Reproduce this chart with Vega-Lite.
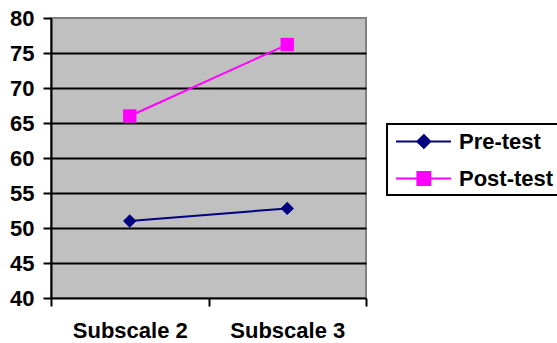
{
  "$schema": "https://vega.github.io/schema/vega-lite/v6.json",
  "autosize": "none",
  "width": 315,
  "height": 280,
  "padding": {"left": 51, "top": 18, "right": 191, "bottom": 45},
  "background": "white",
  "config": {
    "font": "Liberation Sans",
    "view": {"fill": "#C0C0C0", "stroke": "#808080", "strokeWidth": 2},
    "axis": {"labelFont": "Liberation Sans", "labelFontWeight": "bold", "labelFontSize": 22, "labelColor": "black"},
    "legend": {"strokeWidth": 2}
  },
  "data": {
    "values": [
      {"scale": "Subscale 2", "test": "Pre-test", "value": 51.0},
      {"scale": "Subscale 3", "test": "Pre-test", "value": 52.8},
      {"scale": "Subscale 2", "test": "Post-test", "value": 66.0},
      {"scale": "Subscale 3", "test": "Post-test", "value": 76.2}
    ]
  },
  "encoding": {
    "x": {
      "field": "scale",
      "type": "nominal",
      "scale": {"paddingInner": 0, "paddingOuter": 0},
      "axis": {
        "title": null,
        "labelAngle": 0,
        "labelPadding": 14,
        "tickBand": "extent",
        "tickSize": 8,
        "tickColor": "black",
        "tickWidth": 2,
        "domainColor": "black",
        "domainWidth": 2,
        "grid": false
      }
    },
    "y": {
      "field": "value",
      "type": "quantitative",
      "scale": {"domain": [40, 80], "nice": false, "zero": false},
      "axis": {
        "title": null,
        "values": [40, 45, 50, 55, 60, 65, 70, 75, 80],
        "labelPadding": 9,
        "tickSize": 8,
        "tickColor": "black",
        "tickWidth": 2,
        "domainColor": "black",
        "domainWidth": 2,
        "grid": true,
        "gridColor": "black",
        "gridWidth": 2,
        "gridOpacity": {"condition": {"test": "datum.value === 80 || datum.value === 40", "value": 0}, "value": 1},
        "encode": {
          "labels": {
            "update": {
              "font": {"value": "Liberation Sans"},
              "fontWeight": {"value": "bold"},
              "fontSize": {"value": 22}
            }
          }
        }
      }
    },
    "color": {
      "field": "test",
      "type": "nominal",
      "scale": {"domain": ["Pre-test", "Post-test"], "range": ["#000080", "#FF00FF"]},
      "legend": {
        "title": null,
        "orient": "none",
        "legendX": 336,
        "legendY": 106,
        "padding": 5,
        "fillColor": "white",
        "strokeColor": "black",
        "symbolSize": 529,
        "symbolStrokeWidth": 2,
        "symbolOpacity": 1,
        "labelOffset": 42,
        "rowPadding": 13,
        "labelFont": "Liberation Sans",
        "labelFontWeight": "bold",
        "labelFontSize": 22,
        "labelColor": "black",
        "encode": {
          "symbols": {
            "update": {
              "shape": {"signal": "datum.value === 'Pre-test' ? 'M-0.74,0L4.04,0M1.68,-0.56L2.24,0L1.68,0.56L1.12,0Z' : 'M-0.74,0L4.04,0M1.12,-0.56L2.24,-0.56L2.24,0.56L1.12,0.56Z'"},
              "fill": {"signal": "datum.value === 'Pre-test' ? '#000080' : '#FF00FF'"},
              "stroke": {"signal": "datum.value === 'Pre-test' ? '#000080' : '#FF00FF'"}
            }
          }
        }
      }
    }
  },
  "layer": [
    {
      "mark": {"type": "line", "strokeWidth": 2}
    },
    {
      "transform": [{"filter": "datum.test === 'Pre-test'"}],
      "mark": {"type": "point", "shape": "diamond", "filled": true, "opacity": 1, "size": 180}
    },
    {
      "transform": [{"filter": "datum.test === 'Post-test'"}],
      "mark": {"type": "point", "shape": "square", "filled": true, "opacity": 1, "size": 180}
    }
  ]
}
